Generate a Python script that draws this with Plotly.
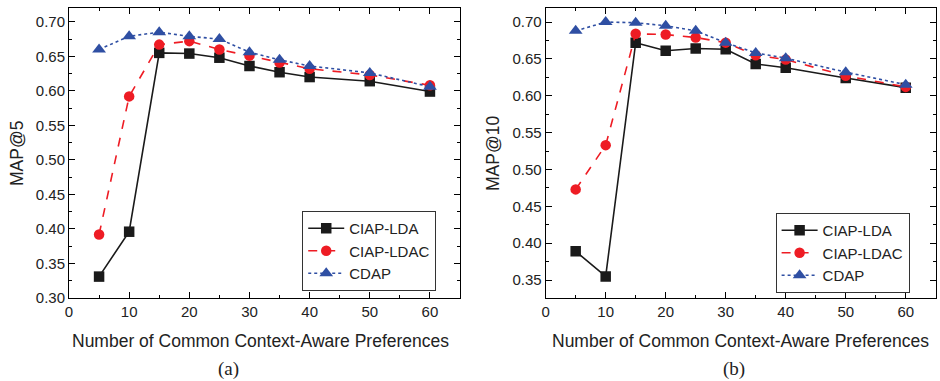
import plotly.graph_objects as go

x_vals = [5, 10, 15, 20, 25, 30, 35, 40, 50, 60]

# Panel (a): MAP@5
a_lda = [0.331, 0.396, 0.655, 0.654, 0.648, 0.636, 0.627, 0.620, 0.614, 0.599]
a_ldac = [0.392, 0.592, 0.667, 0.672, 0.660, 0.651, 0.641, 0.632, 0.623, 0.608]
a_cdap = [0.660, 0.679, 0.685, 0.679, 0.675, 0.656, 0.645, 0.636, 0.626, 0.606]

# Panel (b): MAP@10
b_lda = [0.389, 0.355, 0.672, 0.661, 0.664, 0.663, 0.643, 0.638, 0.624, 0.611]
b_ldac = [0.473, 0.533, 0.684, 0.683, 0.679, 0.672, 0.655, 0.649, 0.627, 0.612]
b_cdap = [0.688, 0.700, 0.699, 0.695, 0.688, 0.672, 0.658, 0.651, 0.632, 0.615]

series_names = ["CIAP-LDA", "CIAP-LDAC", "CDAP"]
x_ticks = [0, 10, 20, 30, 40, 50, 60]

BLACK = "#1a1a1a"
RED = "#ee1c24"
BLUE = "#2f4fa3"
styles = [
    dict(color=BLACK, dash="solid", symbol="square", size=10.5),
    dict(color=RED, dash="dash", symbol="circle", size=10.5),
    dict(color=BLUE, dash="dot", symbol="triangle-up", size=12),
]

fig = go.Figure()
for panel, (data, xa, ya, leg) in enumerate([
    ((a_lda, a_ldac, a_cdap), "x", "y", "legend"),
    ((b_lda, b_ldac, b_cdap), "x2", "y2", "legend2"),
]):
    for name, vals, st in zip(series_names, data, styles):
        fig.add_trace(go.Scatter(
            x=x_vals, y=vals, name=name, mode="lines+markers",
            xaxis=xa, yaxis=ya, legend=leg,
            line=dict(color=st["color"], dash=st["dash"], width=1.6),
            marker=dict(symbol=st["symbol"], size=st["size"], color=st["color"],
                        line=dict(width=0)),
        ))

FONT = "Liberation Sans, Arial, sans-serif"
axis_common = dict(
    showline=True, linecolor="black", linewidth=1, mirror="ticks",
    ticks="inside", ticklen=6, tickcolor="black", tickwidth=1,
    showgrid=False, zeroline=False,
    tickfont=dict(family=FONT, size=15, color="#222"),
)

fig.update_layout(
    width=940, height=381,
    margin=dict(l=69, r=4, t=8, b=83),
    paper_bgcolor="white", plot_bgcolor="white",
    font=dict(family=FONT, color="#222"),
    xaxis=dict(domain=[0, 0.451], range=[0, 65], tickvals=x_ticks,
               minor=dict(ticks="inside", dtick=5, ticklen=3, tickcolor="black"),
               **axis_common),
    yaxis=dict(range=[0.30, 0.72], dtick=0.05, tick0=0.30, tickformat=".2f",
               minor=dict(ticks="inside", dtick=0.025, ticklen=3, tickcolor="black"),
               **axis_common),
    xaxis2=dict(domain=[0.5498, 0.9997], range=[0, 65], tickvals=x_ticks, anchor="y2",
                minor=dict(ticks="inside", dtick=5, ticklen=3, tickcolor="black"),
                **axis_common),
    yaxis2=dict(range=[0.3257, 0.719], dtick=0.05, tick0=0.35, tickformat=".2f", anchor="x2",
                minor=dict(ticks="inside", dtick=0.025, ticklen=3, tickcolor="black"),
                **axis_common),
    legend=dict(x=0.269, y=0.30, xanchor="left", yanchor="top",
                bordercolor="#333", borderwidth=1, bgcolor="white",
                font=dict(family=FONT, size=15, color="#222"),
                tracegroupgap=0, itemwidth=36),
    legend2=dict(x=0.815, y=0.293, xanchor="left", yanchor="top",
                 bordercolor="#333", borderwidth=1, bgcolor="white",
                 font=dict(family=FONT, size=15, color="#222"),
                 tracegroupgap=0, itemwidth=36),
    showlegend=True,
)

ann_font = dict(family=FONT, size=17.5, color="#222")
serif = dict(family="Liberation Serif, Times New Roman, serif", size=19, color="#222")
annotations = [
    dict(text="MAP@5", x=-0.06, y=0.5, textangle=-90, font=ann_font),
    dict(text="MAP@10", x=0.489, y=0.5, textangle=-90, font=ann_font),
    dict(text="Number of Common Context-Aware Preferences", x=0.2203, y=-0.148, font=ann_font),
    dict(text="Number of Common Context-Aware Preferences", x=0.774, y=-0.148, font=ann_font),
    dict(text="(a)", x=0.1845, y=-0.245, font=serif),
    dict(text="(b)", x=0.767, y=-0.245, font=serif),
]
for a in annotations:
    fig.add_annotation(xref="paper", yref="paper", showarrow=False,
                       xanchor="center", yanchor="middle", **a)

fig.write_html("out.html", config={"displayModeBar": False},
               post_script="document.body.style.margin='0';document.body.style.overflow='hidden';")
